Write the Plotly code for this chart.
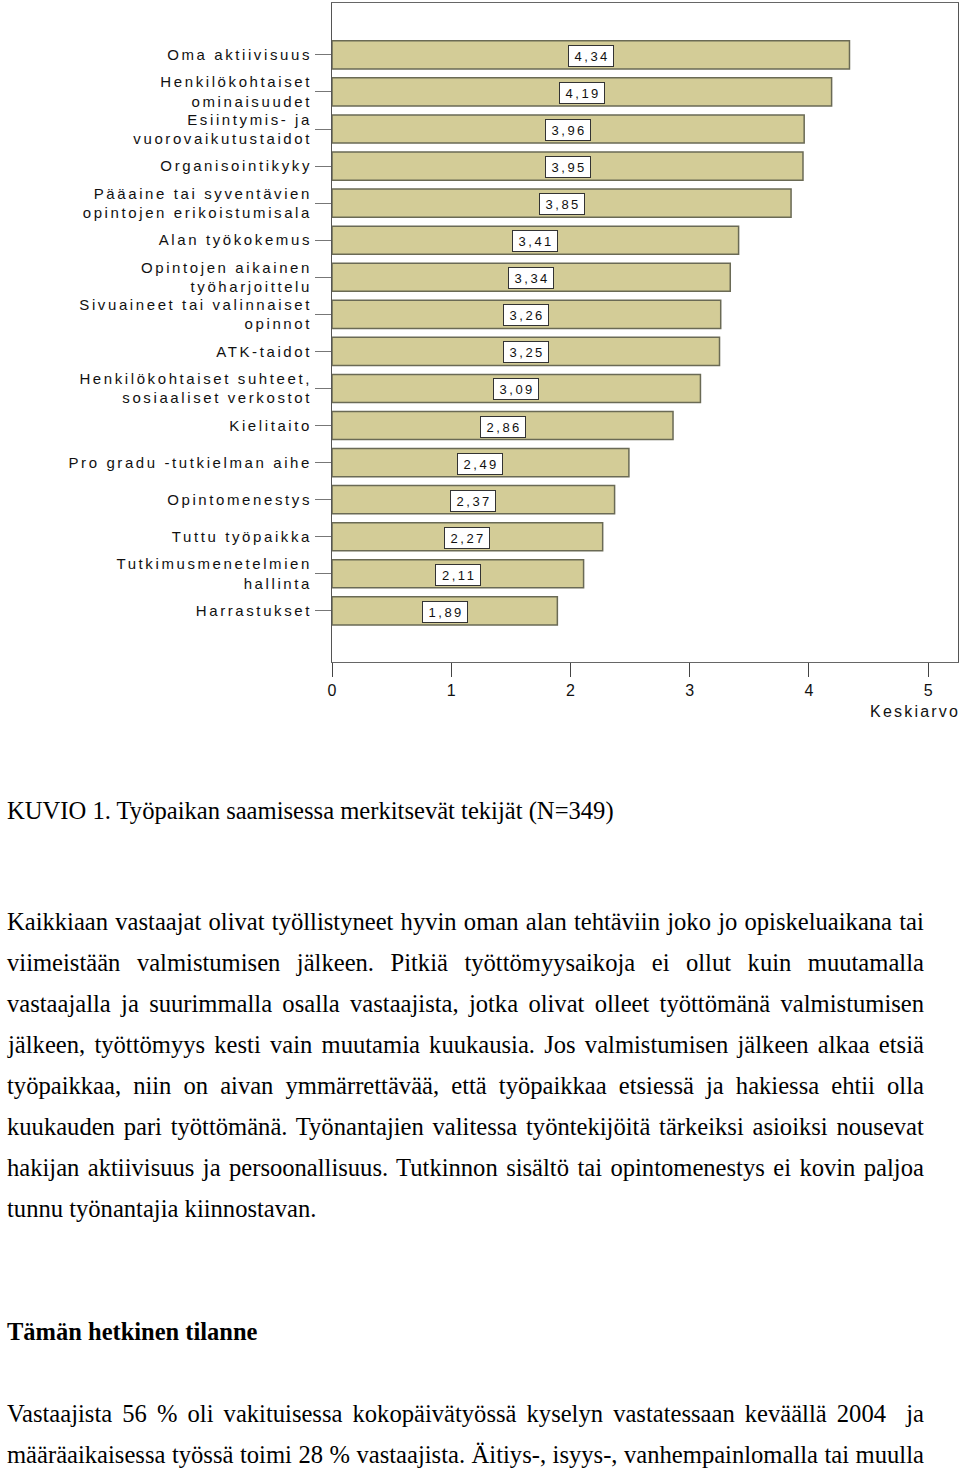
import plotly.graph_objects as go

# ---- data ----
categories = [
    "Oma aktiivisuus",
    "Henkilökohtaiset<br>ominaisuudet",
    "Esiintymis- ja<br>vuorovaikutustaidot",
    "Organisointikyky",
    "Pääaine tai syventävien<br>opintojen erikoistumisala",
    "Alan työkokemus",
    "Opintojen aikainen<br>työharjoittelu",
    "Sivuaineet tai valinnaiset<br>opinnot",
    "ATK-taidot",
    "Henkilökohtaiset suhteet,<br>sosiaaliset verkostot",
    "Kielitaito",
    "Pro gradu -tutkielman aihe",
    "Opintomenestys",
    "Tuttu työpaikka",
    "Tutkimusmenetelmien<br>hallinta",
    "Harrastukset",
]
values = [4.34, 4.19, 3.96, 3.95, 3.85, 3.41, 3.34, 3.26, 3.25, 3.09, 2.86, 2.49, 2.37, 2.27, 2.11, 1.89]
x_ticks = [0, 1, 2, 3, 4, 5]
x_title = "Keskiarvo"

caption = "KUVIO 1. Työpaikan saamisessa merkitsevät tekijät (N=349)"
paragraph_lines = [
    "Kaikkiaan vastaajat olivat työllistyneet hyvin oman alan tehtäviin joko jo opiskeluaikana tai",
    "viimeistään valmistumisen jälkeen. Pitkiä työttömyysaikoja ei ollut kuin muutamalla",
    "vastaajalla ja suurimmalla osalla vastaajista, jotka olivat olleet työttömänä valmistumisen",
    "jälkeen, työttömyys kesti vain muutamia kuukausia. Jos valmistumisen jälkeen alkaa etsiä",
    "työpaikkaa, niin on aivan ymmärrettävää, että työpaikkaa etsiessä ja hakiessa ehtii olla",
    "kuukauden pari työttömänä. Työnantajien valitessa työntekijöitä tärkeiksi asioiksi nousevat",
    "hakijan aktiivisuus ja persoonallisuus. Tutkinnon sisältö tai opintomenestys ei kovin paljoa",
    "tunnu työnantajia kiinnostavan.",
]
heading = "Tämän hetkinen tilanne"
para2_lines = [
    "Vastaajista 56 % oli vakituisessa kokopäivätyössä kyselyn vastatessaan keväällä 2004  ja",
    "määräaikaisessa työssä toimi 28 % vastaajista. Äitiys-, isyys-, vanhempainlomalla tai muulla",
]

# ---- layout geometry (pixels) ----
W, H = 960, 1470
L, R, T, B = 332, 958, 3, 662
pw, ph = R - L, B - T
TEXT_X0, TEXT_X1 = 5, 922


def px(xp):
    return (xp - L) / pw


def py(yp):
    return (B - yp) / ph


SANS = "Liberation Sans, Arial, sans-serif"
SERIF = "Liberation Serif, Times New Roman, serif"
BODY = 24.6

fig = go.Figure()
fig.add_trace(go.Bar(
    x=values,
    y=categories,
    orientation="h",
    width=0.76,
    marker=dict(color="#D3CC97", line=dict(color="#6A6A55", width=1.5)),
    hoverinfo="skip",
))

annotations = []
value_idx = []
for c, v in zip(categories, values):
    value_idx.append(len(annotations))
    annotations.append(dict(
        x=v / 2, y=c, xref="x", yref="y",
        text=f"{v:.2f}".replace(".", ","),
        showarrow=False,
        font=dict(family=SANS, size=13, color="#111111"),
        bgcolor="#FFFFFF", bordercolor="#333333", borderwidth=1,
        borderpad=2, width=40, height=16, yshift=-1,
    ))

title_idx = len(annotations)
annotations.append(dict(
    x=1, y=0, xref="paper", yref="paper", xanchor="right", yanchor="middle",
    yshift=-49, xshift=-6, text=x_title, showarrow=False,
    font=dict(family=SANS, size=16, color="#111111"),
))

annotations.append(dict(
    x=px(TEXT_X0), y=py(811), xref="paper", yref="paper", xanchor="left", yanchor="middle",
    text=caption, showarrow=False, font=dict(family=SERIF, size=BODY, color="#000000"),
))

justify_idx = []
for i, line in enumerate(paragraph_lines):
    if i < len(paragraph_lines) - 1:
        justify_idx.append(len(annotations))
    annotations.append(dict(
        x=px(TEXT_X0), y=py(921 + 41 * i), xref="paper", yref="paper",
        xanchor="left", yanchor="middle", text=line, showarrow=False,
        font=dict(family=SERIF, size=BODY, color="#000000"),
    ))

annotations.append(dict(
    x=px(TEXT_X0), y=py(1331), xref="paper", yref="paper", xanchor="left", yanchor="middle",
    text=f"<b>{heading}</b>", showarrow=False,
    font=dict(family=SERIF, size=24.5, color="#000000"),
))

for i, line in enumerate(para2_lines):
    justify_idx.append(len(annotations))
    annotations.append(dict(
        x=px(TEXT_X0), y=py(1413 + 41 * i), xref="paper", yref="paper",
        xanchor="left", yanchor="middle", text=line, showarrow=False,
        font=dict(family=SERIF, size=BODY, color="#000000"),
    ))

n = len(categories)
fig.update_layout(
    width=W, height=H,
    margin=dict(l=L, r=W - R, t=T, b=H - B, pad=0),
    paper_bgcolor="#FFFFFF", plot_bgcolor="#FFFFFF",
    showlegend=False,
    xaxis=dict(
        range=[0, 5.25], tickvals=x_ticks, ticktext=[str(t) for t in x_ticks],
        ticks="outside", ticklen=14, tickcolor="#444444", tickwidth=1,
        showgrid=False, zeroline=False,
        showline=True, linecolor="#666666", linewidth=1, mirror=True,
        tickfont=dict(family=SANS, size=16, color="#111111"),
    ),
    yaxis=dict(
        type="category", categoryorder="array", categoryarray=categories,
        range=[n - 1 + 1.38, -1.40],
        ticks="outside", ticklen=16, tickcolor="#777777", tickwidth=1,
        showgrid=False, zeroline=False,
        showline=True, linecolor="#555555", linewidth=1, mirror=True,
        tickfont=dict(family=SANS, size=15, color="#111111"),
    ),
    annotations=annotations,
)

post_js = """
document.body.style.margin = '0';
document.body.style.overflow = 'hidden';
var gd = document.getElementById('{plot_id}');
function annText(i) {
  return gd.querySelector('.annotation[data-index="' + i + '"] text.annotation-text');
}
gd.querySelectorAll('.ytick text').forEach(function (t) { t.style.letterSpacing = '2.6px'; });
VALUE_IDX.forEach(function (i) {
  var t = annText(i);
  if (t) { t.style.letterSpacing = '2.5px'; t.setAttribute('transform', 'translate(1.2,0)'); }
});
(function () { var t = annText(TITLE_IDX); if (t) { t.style.letterSpacing = '2.2px'; } })();
JUSTIFY_IDX.forEach(function (i) {
  var t = annText(i); if (!t) return;
  var b0 = t.getBBox();
  var spaces = (t.textContent.match(/ /g) || []).length;
  if (!spaces) return;
  var ws = (TARGET_W - b0.width) / spaces;
  t.style.wordSpacing = ws + 'px';
  var b1 = t.getBBox();
  t.setAttribute('transform', 'translate(' + (b0.x - b1.x) + ',0)');
});
"""
post_js = (post_js.replace("VALUE_IDX", str(value_idx))
           .replace("TITLE_IDX", str(title_idx))
           .replace("JUSTIFY_IDX", str(justify_idx))
           .replace("TARGET_W", str(TEXT_X1 - TEXT_X0)))

fig.write_html("out.html", post_script=post_js, config={"displayModeBar": False})
